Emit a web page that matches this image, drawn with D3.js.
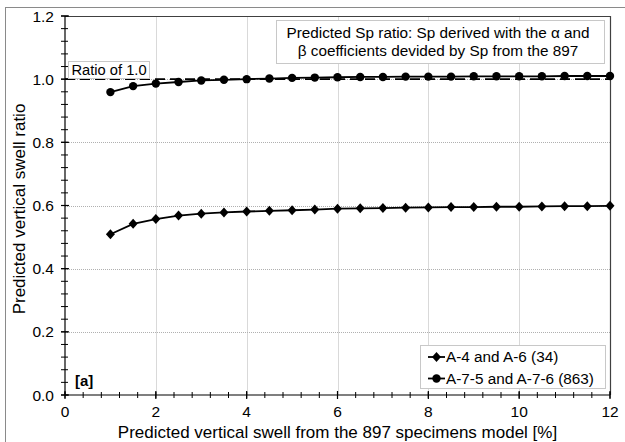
<!DOCTYPE html>
<html>
<head>
<meta charset="utf-8">
<script src="https://cdn.jsdelivr.net/npm/d3@7"></script>
<style>
  html, body { margin: 0; padding: 0; background: #fff; }
  svg { display: block; font-family: "Liberation Sans", Arial, sans-serif; }
</style>
</head>
<body>
<svg id="chart" width="625" height="442"></svg>
<script>
// Predicted vertical swell (%) from the 897-specimen model
const swell = [1, 1.5, 2, 2.5, 3, 3.5, 4, 4.5, 5, 5.5, 6, 6.5, 7, 7.5, 8, 8.5, 9, 9.5, 10, 10.5, 11, 11.5, 12];

// Sp ratio for each soil group
const ratioA4A6 = [0.509, 0.542, 0.557, 0.568, 0.574, 0.578, 0.581, 0.583, 0.585, 0.587, 0.590,
                   0.591, 0.592, 0.593, 0.594, 0.595, 0.595, 0.596, 0.596, 0.597, 0.598, 0.598, 0.599];
const ratioA7 = [0.959, 0.978, 0.986, 0.991, 0.996, 0.998, 1.000, 1.002, 1.004, 1.005, 1.006,
                 1.007, 1.007, 1.008, 1.008, 1.008, 1.009, 1.009, 1.009, 1.009, 1.010, 1.010, 1.010];

const seriesNames = ["A-4 and A-6 (34)", "A-7-5 and A-7-6 (863)"];
const xTicks = [0, 2, 4, 6, 8, 10, 12];
const yTicks = [0.0, 0.2, 0.4, 0.6, 0.8, 1.0, 1.2];
const referenceRatio = 1.0;

const svg = d3.select("#chart");
const pLeft = 65, pRight = 610, pTop = 16, pBottom = 395;

const x = d3.scaleLinear().domain([0, 12]).range([pLeft, pRight]);
const y = d3.scaleLinear().domain([0, 1.2]).range([pBottom, pTop]);

// outer frame
svg.append("rect").attr("x", 5.5).attr("y", 7.5).attr("width", 700).attr("height", 500)
  .attr("fill", "none").attr("stroke", "#8a8a8a").attr("stroke-width", 1);

// gridlines
const grid = svg.append("g");
grid.selectAll("line.v").data(xTicks.filter(t => t > 0 && t < 12)).join("line")
  .attr("x1", d => Math.round(x(d)) + 0.5).attr("x2", d => Math.round(x(d)) + 0.5)
  .attr("y1", pTop).attr("y2", pBottom)
  .attr("stroke", "#d9d9d9").attr("stroke-width", 1);
grid.selectAll("line.h").data(yTicks.filter(t => t > 0 && t < 1.2)).join("line")
  .attr("x1", pLeft).attr("x2", pRight)
  .attr("y1", d => Math.round(y(d)) + 0.5).attr("y2", d => Math.round(y(d)) + 0.5)
  .attr("stroke", "#b0b0b0").attr("stroke-width", 1).attr("stroke-dasharray", "1,1");

// plot area border (top/right)
svg.append("path")
  .attr("d", `M${pLeft},${pTop + 0.5}H${pRight + 0.5}V${pBottom}`)
  .attr("fill", "none").attr("stroke", "#404040").attr("stroke-width", 1.2);

// ratio of 1.0 reference
svg.append("line")
  .attr("x1", x(0)).attr("x2", x(12))
  .attr("y1", y(referenceRatio)).attr("y2", y(referenceRatio))
  .attr("stroke", "#000").attr("stroke-width", 1.6).attr("stroke-dasharray", "10,5");

const line = d3.line().x(d => x(d[0])).y(d => y(d[1]));
const diamond = "M0,-5L4.5,0L0,5L-4.5,0Z";

function drawSeries(vals, marker) {
  const pts = swell.map((s, i) => [s, vals[i]]);
  svg.append("path").datum(pts).attr("d", line)
    .attr("fill", "none").attr("stroke", "#000").attr("stroke-width", 1.8);
  const g = svg.append("g");
  if (marker === "circle") {
    g.selectAll("circle").data(pts).join("circle")
      .attr("cx", d => x(d[0])).attr("cy", d => y(d[1])).attr("r", 4.2).attr("fill", "#000");
  } else {
    g.selectAll("path").data(pts).join("path")
      .attr("transform", d => `translate(${x(d[0])},${y(d[1])})`)
      .attr("d", diamond).attr("fill", "#000");
  }
}
drawSeries(ratioA4A6, "diamond");
drawSeries(ratioA7, "circle");

// axes
const xAxis = svg.append("g").attr("transform", `translate(0,${pBottom})`);
xAxis.append("line").attr("x1", pLeft).attr("x2", pRight).attr("stroke", "#000").attr("stroke-width", 1.2);
const xMinor = d3.range(0, 12.001, 0.4);
xAxis.selectAll("line.minor").data(xMinor).join("line")
  .attr("x1", d => x(d)).attr("x2", d => x(d)).attr("y1", -3).attr("y2", 3)
  .attr("stroke", "#000").attr("stroke-width", 1);
xAxis.selectAll("line.major").data(xTicks).join("line")
  .attr("x1", d => x(d)).attr("x2", d => x(d)).attr("y1", -4).attr("y2", 4)
  .attr("stroke", "#000").attr("stroke-width", 1.2);
xAxis.selectAll("text").data(xTicks).join("text")
  .attr("x", d => x(d)).attr("y", 22).attr("text-anchor", "middle")
  .attr("font-size", 15.5).attr("fill", "#000").text(d => d3.format("d")(d));

const yAxis = svg.append("g").attr("transform", `translate(${pLeft},0)`);
yAxis.append("line").attr("y1", pTop).attr("y2", pBottom).attr("stroke", "#000").attr("stroke-width", 1.2);
const yMinor = d3.range(0, 1.2001, 0.04);
yAxis.selectAll("line.minor").data(yMinor).join("line")
  .attr("y1", d => y(d)).attr("y2", d => y(d)).attr("x1", -4).attr("x2", 3)
  .attr("stroke", "#000").attr("stroke-width", 1);
yAxis.selectAll("line.major").data(yTicks).join("line")
  .attr("y1", d => y(d)).attr("y2", d => y(d)).attr("x1", -4).attr("x2", 4)
  .attr("stroke", "#000").attr("stroke-width", 1.2);
yAxis.selectAll("text").data(yTicks).join("text")
  .attr("x", -11).attr("y", d => y(d) + 5.5).attr("text-anchor", "end")
  .attr("font-size", 15.5).attr("fill", "#000").text(d => d3.format(".1f")(d));

// axis titles
svg.append("text").attr("x", (pLeft + pRight) / 2).attr("y", 438).attr("text-anchor", "middle")
  .attr("font-size", 17).attr("fill", "#000")
  .text("Predicted vertical swell from the 897 specimens model [%]");
svg.append("text").attr("transform", `translate(25,209) rotate(-90)`)
  .attr("text-anchor", "middle").attr("font-size", 17).attr("fill", "#000")
  .text("Predicted vertical swell ratio");

// annotation box
svg.append("rect").attr("x", 276.5).attr("y", 20.5).attr("width", 328).attr("height", 43)
  .attr("fill", "#fff").attr("stroke", "#c8c8c8");
const note = svg.append("text").attr("text-anchor", "middle").attr("font-size", 15.3).attr("fill", "#000");
note.append("tspan").attr("x", 438).attr("y", 38).text("Predicted Sp ratio: Sp derived with the α and");
note.append("tspan").attr("x", 438).attr("y", 55.5).text("β coefficients devided by Sp from the 897");

// reference line label
svg.append("rect").attr("x", 68.5).attr("y", 61.5).attr("width", 81).attr("height", 17)
  .attr("fill", "#fff").attr("stroke", "#c8c8c8");
svg.append("text").attr("x", 71.5).attr("y", 75).attr("font-size", 14.7).attr("fill", "#000").text("Ratio of 1.0");

// panel label
svg.append("text").attr("x", 75).attr("y", 386).attr("font-size", 15).attr("font-weight", "bold")
  .attr("fill", "#000").text("[a]");

// legend
const lg = svg.append("g");
lg.append("rect").attr("x", 420.5).attr("y", 345.5).attr("width", 185).attr("height", 43)
  .attr("fill", "#fff").attr("stroke", "#c8c8c8");
seriesNames.forEach((name, i) => {
  const cy = 357 + i * 21.5;
  lg.append("line").attr("x1", 428).attr("x2", 445).attr("y1", cy).attr("y2", cy)
    .attr("stroke", "#000").attr("stroke-width", 1.8);
  if (i === 0) {
    lg.append("path").attr("transform", `translate(436.5,${cy})`).attr("d", diamond).attr("fill", "#000");
  } else {
    lg.append("circle").attr("cx", 436.5).attr("cy", cy).attr("r", 4.2).attr("fill", "#000");
  }
  lg.append("text").attr("x", 446).attr("y", cy + 5).attr("font-size", 15.3).attr("fill", "#000").text(name);
});
</script>
</body>
</html>
